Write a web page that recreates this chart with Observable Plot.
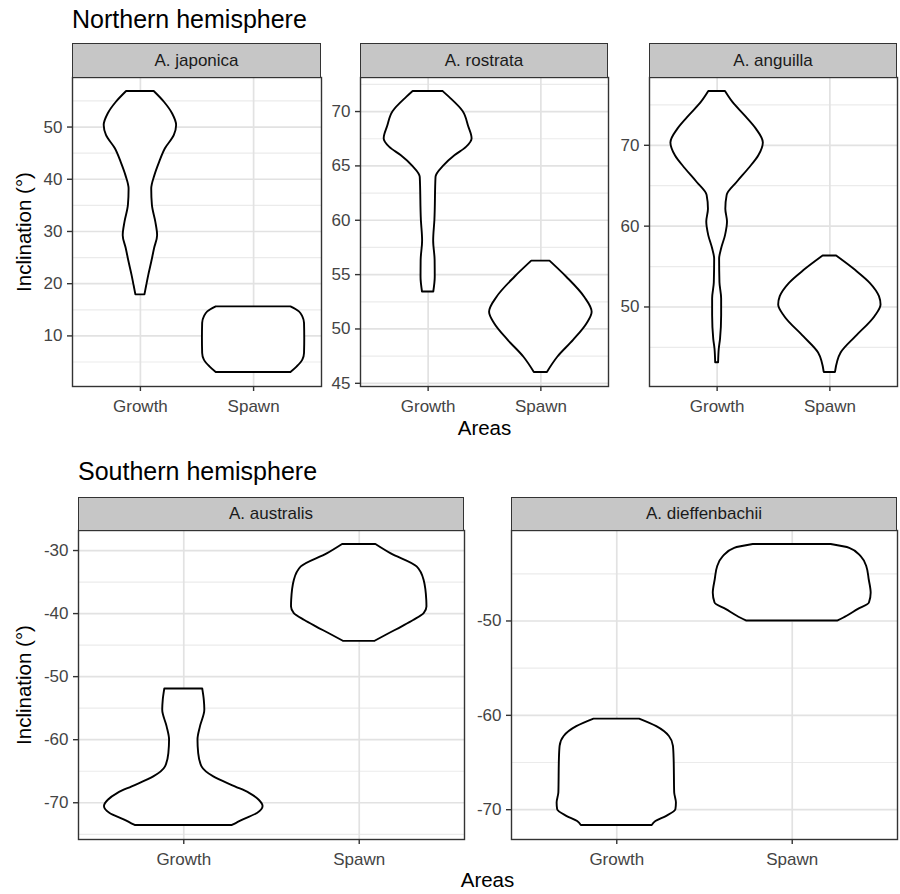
<!DOCTYPE html>
<html><head><meta charset="utf-8">
<script src="https://cdn.jsdelivr.net/npm/d3@7"></script>
<script src="https://cdn.jsdelivr.net/npm/@observablehq/plot@0.6"></script>
<style>
body{margin:0;background:#fff;font-family:"Liberation Sans",Arial,Helvetica,sans-serif;}
#root{position:relative;width:900px;height:894px;overflow:hidden;background:#fff;}
.txt{position:absolute;white-space:nowrap;line-height:1;}
.strip{position:absolute;box-sizing:border-box;background:#c6c6c6;border:1.3px solid #333;display:flex;align-items:center;justify-content:center;font-size:17px;color:#1a1a1a;line-height:1;}
#root svg{position:absolute;overflow:visible;}
</style></head><body><div id="root"></div>
<script>
// ---------- data ----------
const categories = ["Growth", "Spawn"];
const species = ["A. japonica", "A. rostrata", "A. anguilla", "A. australis", "A. dieffenbachii"];
const groupTitles = ["Northern hemisphere", "Southern hemisphere"];
const yTitle = "Inclination (°)";
const xTitle = "Areas";

// violin outlines: inclination values and half-widths (in category units)
const japonicaGrowthY = [56.8, 54.7, 52.5, 50.3, 48.4, 45.8, 43.25, 40.7, 38.1, 35.0, 31.8, 29.2, 26.7, 24.1, 21.6, 19.65, 17.86];
const japonicaGrowthW = [0.122, 0.214, 0.285, 0.32, 0.30, 0.22, 0.17, 0.128, 0.10, 0.106, 0.136, 0.152, 0.125, 0.10, 0.074, 0.056, 0.04];
const japonicaSpawnY = [15.56, 14.6, 13.65, 12.4, 9.5, 6.64, 5.36, 4.08, 3.0];
const japonicaSpawnW = [0.33, 0.405, 0.435, 0.45, 0.452, 0.45, 0.435, 0.386, 0.33];

const rostrataGrowthY = [71.84, 71.3, 70.0, 68.6, 67.5, 66.7, 65.95, 65.0, 63.95, 60.0, 58.1, 56.3, 54.76, 53.4];
const rostrataGrowthW = [0.133, 0.19, 0.31, 0.36, 0.39, 0.34, 0.24, 0.14, 0.07, 0.06, 0.049, 0.062, 0.063, 0.05];
const rostrataSpawnY = [56.24, 54.76, 52.9, 51.54, 50.48, 48.95, 47.4, 46.0];
const rostrataSpawnW = [0.081, 0.23, 0.39, 0.455, 0.41, 0.29, 0.15, 0.058];

const anguillaGrowthY = [76.65, 75.3, 73.7, 72.0, 70.3, 68.7, 67.07, 65.4, 63.8, 62.1, 60.5, 58.8, 57.2, 55.9, 53.0, 51.0, 48.9, 46.0, 44.8, 43.1];
const anguillaGrowthW = [0.074, 0.14, 0.244, 0.348, 0.41, 0.37, 0.28, 0.177, 0.089, 0.077, 0.092, 0.074, 0.04, 0.022, 0.025, 0.04, 0.04, 0.03, 0.019, 0.013];
const anguillaSpawnY = [56.3, 54.5, 52.9, 51.27, 50.24, 48.8, 46.3, 44.3, 41.9];
const anguillaSpawnW = [0.06, 0.23, 0.36, 0.44, 0.454, 0.40, 0.23, 0.10, 0.05];

const australisGrowthY = [-51.95, -53.75, -55.3, -57.97, -60.08, -62.2, -64.3, -65.9, -67.47, -68.5, -69.6, -70.6, -71.7, -72.7, -73.6];
const australisGrowthW = [0.108, 0.117, 0.12, 0.095, 0.081, 0.085, 0.104, 0.171, 0.294, 0.375, 0.43, 0.452, 0.42, 0.34, 0.277];
const australisSpawnY = [-29.05, -30.5, -32.6, -34.75, -37.9, -38.97, -40.0, -41.1, -42.1, -43.2, -44.4];
const australisSpawnW = [0.095, 0.18, 0.33, 0.37, 0.385, 0.386, 0.37, 0.31, 0.245, 0.17, 0.09];

const dieffGrowthY = [-60.4, -61.2, -62.24, -63.3, -64.7, -68.2, -69.3, -70.0, -70.7, -71.25, -71.67];
const dieffGrowthW = [0.13, 0.228, 0.30, 0.323, 0.327, 0.33, 0.34, 0.337, 0.285, 0.223, 0.202];
const dieffSpawnY = [-41.9, -42.3, -43.2, -44.25, -45.66, -47.07, -48.1, -48.8, -49.5, -50.0];
const dieffSpawnW = [0.222, 0.328, 0.394, 0.425, 0.439, 0.45, 0.44, 0.375, 0.313, 0.261];

// tick labels per panel
const japonicaTicks = [10, 20, 30, 40, 50];
const rostrataTicks = [45, 50, 55, 60, 65, 70];
const anguillaTicks = [50, 60, 70];
const australisTicks = [-70, -60, -50, -40, -30];
const dieffTicks = [-70, -60, -50];
const japonicaMinor = [5, 15, 25, 35, 45, 55];
const rostrataMinor = [47.5, 52.5, 57.5, 62.5, 67.5, 72.5];
const anguillaMinor = [45, 55, 65, 75];
const australisMinor = [-75, -65, -55, -45, -35];
const dieffMinor = [-65, -55, -45];

// ---------- layout ----------
const FONT = '"Liberation Sans", Arial, Helvetica, sans-serif';
const panels = [
  {name: species[0], g: [japonicaGrowthY, japonicaGrowthW], s: [japonicaSpawnY, japonicaSpawnW], ticks: japonicaTicks, minor: japonicaMinor, left: 72, right: 321, top: 43, stripB: 77, bottom: 386},
  {name: species[1], g: [rostrataGrowthY, rostrataGrowthW], s: [rostrataSpawnY, rostrataSpawnW], ticks: rostrataTicks, minor: rostrataMinor, left: 360, right: 608, top: 43, stripB: 77, bottom: 386},
  {name: species[2], g: [anguillaGrowthY, anguillaGrowthW], s: [anguillaSpawnY, anguillaSpawnW], ticks: anguillaTicks, minor: anguillaMinor, left: 649, right: 897, top: 43, stripB: 77, bottom: 386},
  {name: species[3], g: [australisGrowthY, australisGrowthW], s: [australisSpawnY, australisSpawnW], ticks: australisTicks, minor: australisMinor, left: 78, right: 464, top: 497, stripB: 530, bottom: 839},
  {name: species[4], g: [dieffGrowthY, dieffGrowthW], s: [dieffSpawnY, dieffSpawnW], ticks: dieffTicks, minor: dieffMinor, left: 511, right: 897, top: 497, stripB: 530, bottom: 839}
];

const root = document.getElementById("root");

function addText(txt, x, baseline, fs, opts = {}) {
  const d = document.createElement("div");
  d.className = "txt";
  d.textContent = txt;
  d.style.fontSize = fs + "px";
  d.style.color = opts.color || "#000";
  d.style.top = (baseline - 0.8465 * fs) + "px";
  d.style.left = x + "px";
  if (opts.anchor === "middle") d.style.transform = "translateX(-50%)";
  root.appendChild(d);
  return d;
}

function addRotated(txt, cx, cy, fs) {
  const d = document.createElement("div");
  d.className = "txt";
  d.textContent = txt;
  d.style.fontSize = fs + "px";
  d.style.color = "#000";
  d.style.left = cx + "px";
  d.style.top = cy + "px";
  d.style.transform = "translate(-50%,-50%) rotate(-90deg)";
  root.appendChild(d);
}

function buildPanel(p) {
  const ml = 50, mr = 4, mt = 2, mb = 34;
  const pw = p.right - p.left, ph = p.bottom - p.stripB;
  const rows = [];
  [p.g, p.s].forEach(([ys, ws], ci) => {
    const pos = ci + 1;
    ys.forEach((y, k) => rows.push({cat: categories[ci], y, x1: pos - ws[k], x2: pos + ws[k]}));
  });
  rows.sort((a, b) => a.cat === b.cat ? a.y - b.y : (a.cat < b.cat ? -1 : 1));
  const ext = d3.extent(rows, d => d.y);
  const pad = (ext[1] - ext[0]) * 0.05;
  const chart = Plot.plot({
    width: pw + ml + mr,
    height: ph + mt + mb,
    marginLeft: ml, marginRight: mr, marginTop: mt, marginBottom: mb,
    x: {domain: [0.4, 2.6], label: null},
    y: {domain: [ext[0] - pad, ext[1] + pad], label: null},
    style: {fontFamily: FONT, fontSize: "17px", background: "transparent", overflow: "visible"},
    marks: [
      Plot.gridY(p.minor, {stroke: "#ebebeb", strokeOpacity: 1, strokeWidth: 1.2}),
      Plot.gridY(p.ticks, {stroke: "#e2e2e2", strokeOpacity: 1, strokeWidth: 1.7}),
      Plot.gridX([1, 2], {stroke: "#e2e2e2", strokeOpacity: 1, strokeWidth: 1.7}),
      Plot.areaX(rows, {y: "y", x1: "x1", x2: "x2", z: "cat", fill: "white", stroke: "black", strokeWidth: 1.9, curve: "monotone-y"}),
      Plot.frame({stroke: "#333", strokeWidth: 1.4}),
      Plot.axisY(p.ticks, {tickSize: 5, tickPadding: 5, stroke: "#333", strokeWidth: 1.4, fill: "#444", fontSize: 17, label: null, tickFormat: d => String(d)}),
      Plot.axisX([1, 2], {tickSize: 5, tickPadding: 8, stroke: "#333", strokeWidth: 1.4, fill: "#444", fontSize: 17, label: null, tickFormat: d => categories[d - 1]})
    ]
  });
  chart.style.left = (p.left - ml) + "px";
  chart.style.top = (p.stripB - mt) + "px";
  root.appendChild(chart);

  const s = document.createElement("div");
  s.className = "strip";
  s.style.left = p.left + "px";
  s.style.top = p.top + "px";
  s.style.width = pw + "px";
  s.style.height = (p.stripB - p.top + 0.7) + "px";
  s.textContent = p.name;
  root.appendChild(s);
}

panels.forEach(buildPanel);

addText(groupTitles[0], 72, 28.3, 25);
addText(groupTitles[1], 78, 480, 25);
addText(xTitle, 484.5, 435, 20.5, {anchor: "middle"});
addText(xTitle, 487.5, 887.5, 20.5, {anchor: "middle"});
addRotated(yTitle, 24, 231.5, 20.5);
addRotated(yTitle, 24, 684.5, 20.5);
</script>
</body></html>
